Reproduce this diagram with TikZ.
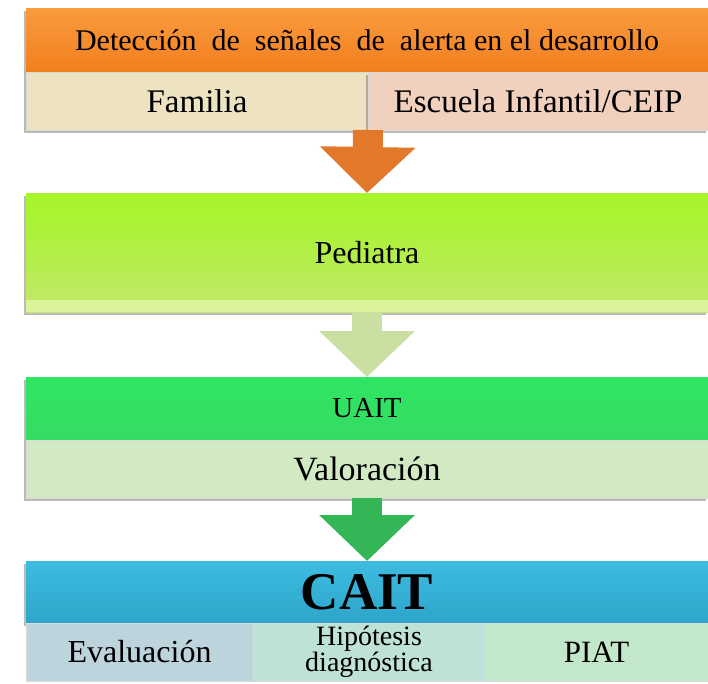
\documentclass[tikz,border=0pt]{standalone}
\usepackage{fontspec}
\setmainfont{Liberation Serif}
\usetikzlibrary{arrows.meta,shadows,calc}
\definecolor{orgA}{HTML}{F99B3E}
\definecolor{orgB}{HTML}{F27F1E}
\definecolor{famC}{HTML}{EEE3C1}
\definecolor{escC}{HTML}{F1D0BE}
\definecolor{orgArr}{HTML}{E2782A}
\definecolor{pedA}{HTML}{A6F52A}
\definecolor{pedB}{HTML}{C4E76E}
\definecolor{pedBand}{HTML}{E2F6A6}
\definecolor{pedArr}{HTML}{C9E0A2}
\definecolor{uaitA}{HTML}{2FE563}
\definecolor{uaitB}{HTML}{35DC63}
\definecolor{valC}{HTML}{D1EAC3}
\definecolor{grnArr}{HTML}{34B556}
\definecolor{caitA}{HTML}{3DBBE0}
\definecolor{caitB}{HTML}{2EA5CB}
\definecolor{evaC}{HTML}{BED4DD}
\definecolor{hipC}{HTML}{BEE1D8}
\definecolor{piatC}{HTML}{C2E7C9}
\tikzset{
  shad/.style={drop shadow={shadow xshift=-2pt, shadow yshift=-3pt, opacity=0.45, fill=black!60}},
  box/.style={rectangle, inner sep=0pt, outer sep=0pt, minimum width=682pt, shad,
    font=\fontsize{31}{34}\selectfont, align=center},
  subbox/.style={rectangle, inner sep=0pt, outer sep=0pt, draw=white!85!black, line width=0.6pt,
    font=\fontsize{33}{36}\selectfont, align=center},
  flowarrow/.style={line width=30pt, -{Triangle[length=46pt, width=93pt]}}
}
\begin{document}
\begin{tikzpicture}[x=1pt, y=-1pt]
\useasboundingbox (0,0) rectangle (708,683);
% top block
\node[box, minimum height=64pt, top color=orgA, bottom color=orgB, font=\fontsize{30}{33}\selectfont] (top) at (367,40) {Detecci\'on\ \ de\ \ se\~nales\ \ de\ \ alerta en el desarrollo};
\node[subbox, minimum width=342pt, minimum height=58pt, fill=famC, shad] (fam) at (197,101) {Familia};
\node[subbox, minimum width=340pt, minimum height=58pt, fill=escC, shad] (esc) at (538,101) {Escuela Infantil/CEIP};
% pediatra
\node[box, minimum height=119pt, top color=pedA, bottom color=pedB, middle color=pedA!60!pedB, font=\fontsize{32}{35}\selectfont] (ped) at (367,252.5) {Pediatra};
\fill[pedBand, opacity=0.8] ($(ped.south west)+(0,-12)$) rectangle (ped.south east);
% uait
\node[box, minimum height=63pt, top color=uaitA, bottom color=uaitB, font=\fontsize{29}{32}\selectfont] (uait) at (367,408.5) {UAIT};
\node[subbox, minimum width=682pt, minimum height=58pt, fill=valC, shad, font=\fontsize{34}{37}\selectfont] (val) at (367,469) {Valoraci\'on};
% cait
\node[box, minimum height=62pt, top color=caitA, bottom color=caitB, font=\fontsize{53}{56}\selectfont\bfseries] (cait) at (367,592) {CAIT};
\node[subbox, minimum width=227pt, minimum height=58pt, fill=evaC, font=\fontsize{32}{35}\selectfont] (eva) at (139.5,652) {Evaluaci\'on};
\node[subbox, minimum width=232pt, minimum height=58pt, fill=hipC, font=\fontsize{28}{26}\selectfont] (hip) at (369,652) {Hip\'otesis\\diagn\'ostica};
\node[subbox, minimum width=223pt, minimum height=58pt, fill=piatC, font=\fontsize{31}{34}\selectfont] (piat) at (596.5,652) {PIAT};
% arrows
\draw[flowarrow, orgArr] (fam.south east) -- (ped.north);
\draw[flowarrow, pedArr] (ped.south) -- (uait.north);
\draw[flowarrow, grnArr] (val.south) -- (cait.north);
\end{tikzpicture}
\end{document}
